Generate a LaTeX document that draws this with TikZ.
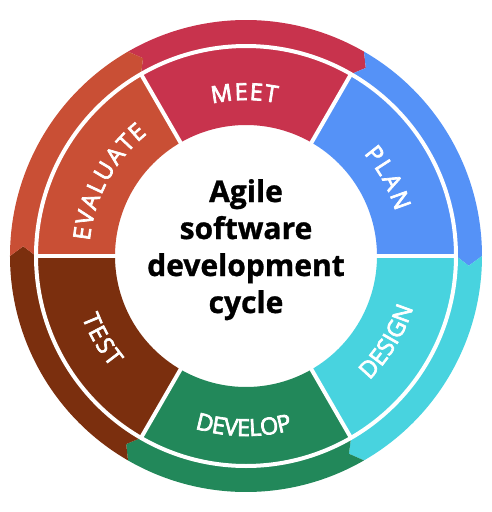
\documentclass[tikz,border=0pt]{standalone}
\usepackage{fontspec}
\setmainfont{Open Sans}
\newfontfamily\labfont[FakeBold=3]{Open Sans}
\newfontfamily\ttlfont[FakeBold=1]{Open Sans Bold}
\usetikzlibrary{decorations.text}
\definecolor{cmeet}{HTML}{C8334D}
\definecolor{cplan}{HTML}{5592F7}
\definecolor{cdesign}{HTML}{48D3DF}
\definecolor{cdevelop}{HTML}{22885A}
\definecolor{ctest}{HTML}{7B2F0E}
\definecolor{ceval}{HTML}{C94F35}
\newcommand\labsize{\labfont\fontsize{23.5}{23.5}\selectfont}
\newcommand\titlesize{\ttlfont\fontsize{30}{37}\selectfont}
\tikzset{
  seplines/.style={draw=white, line width=4pt},
  curvedlabel/.style={decorate, decoration={text effects along path, text={#1},
     text effects/.cd, text along path, fit text to path,
     characters={inner sep=0pt, anchor=base, text=white, font=\labsize}}},
  titleline/.style={anchor=base, inner sep=0pt, font=\titlesize, text=black}
}
\newcommand\arrowband[3]{% colour, tail angle, tip-base angle
  \fill[#1] (#2:236) arc[start angle=#2, end angle=#3, radius=236]
     -- ({#3-2.5}:223) -- (#3:210) arc[start angle=#3, end angle=#2, radius=210]
     -- ({#2-2.5}:223) -- cycle;}
\newcommand\segment[3]{% colour, start, end
  \fill[#1] (#2:131) -- (#2:210) arc[start angle=#2, end angle=#3, radius=210]
     -- (#3:131) arc[start angle=#3, end angle=#2, radius=131] -- cycle;}
\begin{document}
\begin{tikzpicture}[x=1pt,y=1pt]
\useasboundingbox[fill=white] (-246,-256) rectangle (245,256);
% outer arrows (clockwise)
\arrowband{cmeet}{120}{60}
\arrowband{cplan}{60}{0}
\arrowband{cdesign}{0}{-60}
\arrowband{cdevelop}{-60}{-120}
\arrowband{ctest}{240}{180}
\arrowband{ceval}{180}{120}
% segments
\segment{cplan}{0}{60}
\segment{cmeet}{60}{120}
\segment{ceval}{120}{180}
\segment{ctest}{180}{240}
\segment{cdevelop}{240}{300}
\segment{cdesign}{300}{360}
% white separators
\draw[seplines] (0,0) circle[radius=210];
\foreach \a in {0,60,...,300} {\draw[seplines] (\a:129) -- (\a:210);}
% labels
\path[curvedlabel={MEET}] (102.5:156) arc[start angle=102.5, end angle=78.7, radius=156];
\path[curvedlabel={PLAN}] (41:156) arc[start angle=41, end angle=16.6, radius=156];
\path[curvedlabel={EVALUATE}] (174.5:157) arc[start angle=174.5, end angle=129, radius=157];
\path[curvedlabel={DESIGN}] (-45.2:175) arc[start angle=-45.2, end angle=-17.2, radius=175];
\path[curvedlabel={DEVELOP}] (-106.5:180) arc[start angle=-106.5, end angle=-75, radius=180];
\path[curvedlabel={TEST}] (200.5:175) arc[start angle=200.5, end angle=219.5, radius=175];
% title
\node[titleline] (t1) at (0,54) {Agile};
\node[titleline] (t2) at (0,17) {software};
\node[titleline] (t3) at (0,-20) {development};
\node[titleline] (t4) at (0,-57) {cycle};
\end{tikzpicture}
\end{document}
